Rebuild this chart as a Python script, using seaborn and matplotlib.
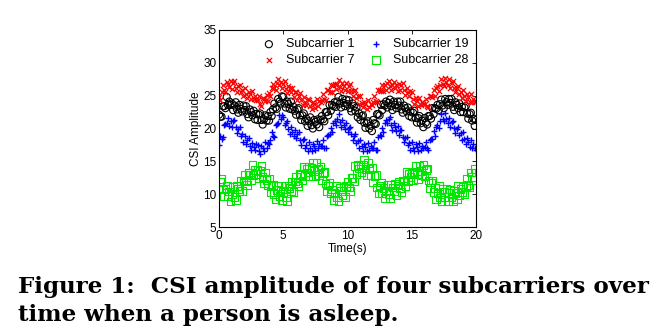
import numpy as np
import pandas as pd
import matplotlib
matplotlib.use("Agg")
import matplotlib.pyplot as plt
import seaborn as sns

time_s = [round(i * 0.1, 1) for i in range(201)]

sub1 = [
    22.1, 21.8, 21.8, 23.4, 23.4, 23.1, 24.8, 23.6, 24.1, 23.6,
    23.8, 22.8, 23.5, 24.0, 22.9, 22.4, 23.6, 23.0, 22.6, 23.5,
    22.8, 23.4, 22.2, 21.7, 22.9, 22.5, 22.0, 22.7, 21.4, 22.2,
    21.3, 22.1, 22.3, 21.3, 20.6, 21.4, 22.0, 21.2, 21.9, 21.2,
    22.5, 21.9, 22.9, 23.8, 23.2, 23.0, 24.5, 24.1, 23.8, 24.9,
    24.8, 23.8, 23.2, 24.1, 23.7, 23.0, 24.1, 22.9, 23.3, 22.7,
    22.1, 22.9, 23.1, 22.0, 21.3, 22.0, 22.3, 21.1, 21.5, 20.4,
    21.1, 21.7, 20.5, 20.0, 21.3, 21.0, 20.6, 21.4, 20.2, 21.3,
    21.9, 21.4, 21.1, 22.5, 22.5, 22.0, 23.6, 22.7, 23.6, 23.4,
    24.0, 23.3, 24.1, 24.8, 23.8, 23.2, 24.5, 23.9, 23.4, 24.4,
    23.7, 24.3, 23.1, 22.6, 23.8, 23.4, 22.7, 23.2, 21.7, 22.3,
    21.3, 21.9, 22.0, 20.9, 20.1, 20.8, 21.1, 20.0, 20.4, 19.6,
    21.3, 20.8, 20.7, 22.2, 22.2, 22.0, 23.6, 22.8, 23.7, 23.5,
    24.1, 23.2, 23.9, 24.4, 23.4, 22.8, 24.1, 23.6, 23.1, 24.1,
    23.5, 24.1, 22.9, 22.4, 23.5, 23.1, 22.6, 23.2, 21.9, 22.6,
    21.7, 22.4, 22.7, 21.6, 20.9, 21.6, 21.9, 20.8, 21.2, 20.2,
    21.6, 20.9, 20.6, 21.9, 21.9, 21.5, 23.1, 22.2, 23.1, 23.0,
    23.6, 22.8, 23.7, 24.4, 23.5, 23.1, 24.5, 24.0, 23.6, 24.5,
    23.9, 24.5, 23.3, 22.8, 24.0, 23.6, 23.1, 23.8, 22.5, 23.3,
    22.5, 23.2, 23.4, 22.3, 21.5, 22.2, 22.4, 21.2, 21.5, 20.4, 21.3,
]

sub7 = [
    24.8, 24.4, 25.6, 26.7, 25.9, 25.6, 27.1, 26.8, 26.3, 27.2,
    26.0, 26.9, 27.2, 26.2, 25.5, 26.4, 26.7, 25.6, 25.9, 24.9,
    26.2, 25.3, 24.7, 25.6, 25.2, 24.5, 25.7, 24.5, 24.9, 24.4,
    24.4, 25.0, 23.8, 23.4, 24.7, 24.5, 24.2, 25.1, 24.2, 25.4,
    24.9, 26.1, 26.8, 26.2, 25.9, 27.0, 27.6, 26.7, 27.1, 26.1,
    26.8, 27.3, 26.0, 25.4, 26.5, 26.1, 25.5, 26.2, 24.8, 25.6,
    25.5, 24.4, 25.0, 25.4, 24.3, 23.6, 24.8, 24.1, 23.6, 24.5,
    24.4, 23.5, 22.9, 24.0, 23.7, 23.1, 24.5, 23.5, 24.2, 24.0,
    24.4, 25.3, 24.5, 24.4, 25.9, 25.8, 25.6, 26.6, 25.6, 26.7,
    26.8, 26.0, 26.8, 27.4, 26.3, 25.7, 27.0, 26.4, 25.9, 26.9,
    25.7, 26.5, 26.8, 25.7, 24.9, 25.7, 25.9, 24.6, 24.9, 23.7,
    24.9, 23.9, 23.2, 24.1, 23.7, 23.0, 24.3, 23.2, 23.8, 23.6,
    24.0, 25.0, 24.2, 24.1, 25.8, 25.8, 25.7, 26.7, 25.7, 26.7,
    25.9, 26.9, 27.3, 26.4, 25.8, 26.7, 27.1, 26.1, 26.6, 25.7,
    26.8, 25.9, 26.6, 27.0, 25.8, 25.1, 26.2, 25.5, 24.9, 25.7,
    25.5, 24.5, 23.8, 24.7, 24.2, 23.5, 24.7, 23.6, 24.1, 23.7,
    23.8, 24.5, 23.4, 23.3, 24.9, 24.9, 24.8, 25.9, 24.9, 26.1,
    26.4, 25.7, 26.7, 27.5, 26.8, 26.5, 27.7, 27.1, 26.6, 27.5,
    26.2, 27.0, 27.3, 26.2, 25.5, 26.2, 26.5, 25.3, 25.6, 24.6,
    25.8, 24.9, 24.2, 25.2, 24.8, 24.1, 25.3, 24.1, 24.5, 24.0, 24.2,
]

sub19 = [
    17.5, 18.9, 18.4, 18.7, 20.5, 20.7, 20.8, 21.6, 20.4, 21.2,
    20.3, 21.1, 21.3, 20.2, 19.3, 20.0, 20.2, 18.9, 19.2, 18.0,
    18.8, 17.7, 18.2, 18.6, 17.4, 16.7, 17.8, 17.2, 16.7, 17.6,
    17.5, 16.6, 16.1, 17.3, 17.1, 16.6, 18.0, 17.1, 17.8, 17.7,
    18.2, 19.5, 18.8, 18.7, 20.5, 20.7, 20.8, 22.1, 21.4, 22.1,
    21.8, 20.6, 20.9, 21.2, 20.0, 19.2, 20.3, 19.5, 18.9, 19.7,
    18.5, 19.2, 19.4, 18.3, 17.5, 18.2, 18.4, 17.1, 17.5, 16.5,
    17.9, 17.0, 16.5, 17.6, 17.3, 16.7, 18.1, 17.0, 17.6, 17.3,
    17.4, 18.2, 17.1, 17.0, 18.8, 19.0, 19.1, 20.1, 19.4, 20.8,
    21.1, 20.5, 21.4, 22.2, 21.0, 20.2, 21.3, 20.6, 20.0, 20.8,
    19.5, 20.1, 20.2, 19.1, 18.3, 18.9, 19.1, 17.8, 18.1, 17.0,
    18.2, 17.3, 16.6, 17.6, 17.2, 16.5, 17.8, 16.7, 17.4, 17.0,
    17.1, 17.9, 16.8, 16.8, 18.7, 19.0, 18.8, 20.1, 19.4, 20.8,
    21.3, 20.9, 21.4, 21.7, 20.5, 19.8, 20.9, 20.2, 19.6, 20.4,
    19.0, 19.7, 19.8, 18.7, 17.9, 18.5, 18.7, 17.5, 17.8, 16.7,
    18.0, 17.1, 16.5, 17.6, 17.2, 16.6, 17.8, 16.7, 17.3, 17.0,
    17.2, 18.0, 17.0, 16.7, 18.3, 18.4, 18.4, 19.6, 18.9, 20.2,
    20.6, 20.1, 21.2, 22.2, 21.5, 21.2, 22.3, 21.5, 20.8, 21.6,
    20.3, 21.0, 21.2, 20.1, 19.3, 20.0, 20.2, 19.0, 19.3, 18.2,
    19.4, 18.4, 17.7, 18.5, 18.0, 17.2, 18.3, 17.1, 17.6, 17.1, 16.8,
]

sub28 = [
    10.7, 11.9, 12.3, 10.7, 9.7, 10.8, 11.3, 9.7, 10.4, 8.9,
    10.0, 11.1, 9.6, 9.1, 11.2, 10.8, 10.5, 12.0, 10.5, 12.1,
    12.9, 11.9, 11.4, 13.2, 13.0, 12.2, 14.4, 12.9, 13.7, 13.1,
    13.7, 12.4, 13.5, 14.3, 12.6, 11.6, 13.3, 12.2, 11.4, 12.4,
    10.3, 11.2, 11.4, 10.0, 9.2, 10.6, 11.2, 9.7, 10.5, 9.1,
    10.3, 11.2, 9.6, 9.0, 11.2, 10.9, 10.5, 11.9, 10.3, 11.9,
    12.6, 11.7, 11.2, 13.1, 12.9, 12.1, 14.2, 12.8, 13.8, 13.3,
    14.1, 12.8, 14.0, 14.8, 13.5, 12.7, 14.8, 13.8, 12.9, 14.2,
    12.2, 13.2, 13.4, 11.6, 10.4, 11.3, 11.7, 10.1, 10.7, 9.1,
    10.2, 11.2, 9.6, 9.0, 11.0, 10.5, 9.9, 11.1, 9.6, 11.2,
    11.9, 11.0, 10.5, 12.5, 12.5, 11.9, 14.3, 13.1, 14.4, 13.9,
    14.5, 13.3, 14.4, 15.3, 13.8, 12.9, 14.7, 13.8, 12.9, 14.0,
    11.8, 12.8, 12.9, 11.0, 10.1, 11.3, 11.8, 10.2, 10.9, 9.4,
    10.5, 11.5, 10.0, 9.4, 11.4, 11.0, 10.4, 11.6, 9.9, 11.3,
    11.9, 10.9, 10.3, 12.1, 11.9, 11.2, 13.4, 12.0, 13.1, 12.6,
    13.3, 12.1, 13.4, 14.3, 13.0, 12.3, 14.3, 13.5, 12.9, 14.4,
    12.7, 13.7, 13.9, 12.1, 10.9, 11.8, 12.1, 10.3, 10.9, 9.2,
    10.2, 11.2, 9.5, 8.9, 10.8, 10.3, 9.6, 10.8, 9.0, 10.2,
    10.7, 9.5, 8.9, 10.5, 10.2, 9.2, 11.3, 9.8, 10.8, 10.3,
    11.1, 10.0, 11.2, 12.4, 11.4, 11.0, 13.3, 12.6, 12.2, 13.8, 13.3,
]

labels = ["Subcarrier 1", "Subcarrier 7", "Subcarrier 19", "Subcarrier 28"]
x_ticks = [0, 5, 10, 15, 20]
y_ticks = [5, 10, 15, 20, 25, 30, 35]
caption_line1 = "Figure 1:  CSI amplitude of four subcarriers over"
caption_line2 = "time when a person is asleep."

sns.set_style("white")
plt.rcParams["font.family"] = ["Liberation Sans", "DejaVu Sans"]
plt.rcParams["xtick.direction"] = "in"
plt.rcParams["ytick.direction"] = "in"
plt.rcParams["text.color"] = "black"
plt.rcParams["axes.labelcolor"] = "black"
plt.rcParams["xtick.color"] = "black"
plt.rcParams["ytick.color"] = "black"

fig = plt.figure(figsize=(6.72, 3.27), dpi=100)
ax = fig.add_axes([219 / 672, 1 - 227 / 327, (476 - 219) / 672, (227 - 30) / 327])

styles = [
    dict(marker="o", facecolors="none", edgecolors="black", s=26, linewidths=0.8),
    dict(marker="x", color="red", s=14, linewidths=0.9),
    dict(marker="+", color="blue", s=22, linewidths=1.0),
    dict(marker="s", facecolors="none", edgecolors="#00e600", s=30, linewidths=0.8),
]
series = [sub1, sub7, sub19, sub28]
for vals, lab, st in zip(series, labels, styles):
    df = pd.DataFrame({"t": time_s, "v": vals})
    sns.scatterplot(data=df, x="t", y="v", ax=ax, label=lab, legend=True, **st)

ax.set_xlim(0, 20)
ax.set_ylim(5, 35)
ax.set_xticks(x_ticks)
ax.set_yticks(y_ticks)
ax.tick_params(labelsize=8.5, length=3, width=0.6, top=True, right=True, pad=2)
for sp in ax.spines.values():
    sp.set_visible(True)
    sp.set_color("black")
    sp.set_linewidth(0.8)
ax.set_xlabel("Time(s)", fontsize=8.5, labelpad=1)
ax.set_ylabel("CSI Amplitude", fontsize=8.5, labelpad=1)

leg = ax.legend(loc="upper right", bbox_to_anchor=(1.0, 0.995), ncol=2, frameon=False,
                fontsize=9, handletextpad=0.6, columnspacing=1.0, labelspacing=0.3,
                borderaxespad=0.2, handlelength=1.5, markerscale=1.0)

fig.text(18 / 672, 1 - 293 / 327, caption_line1, fontsize=16.6, family="DejaVu Serif",
         fontweight="bold", va="baseline", ha="left", color="black")
fig.text(18 / 672, 1 - 321 / 327, caption_line2, fontsize=16.6, family="DejaVu Serif",
         fontweight="bold", va="baseline", ha="left", color="black")

fig.savefig("out.png", dpi=100)
